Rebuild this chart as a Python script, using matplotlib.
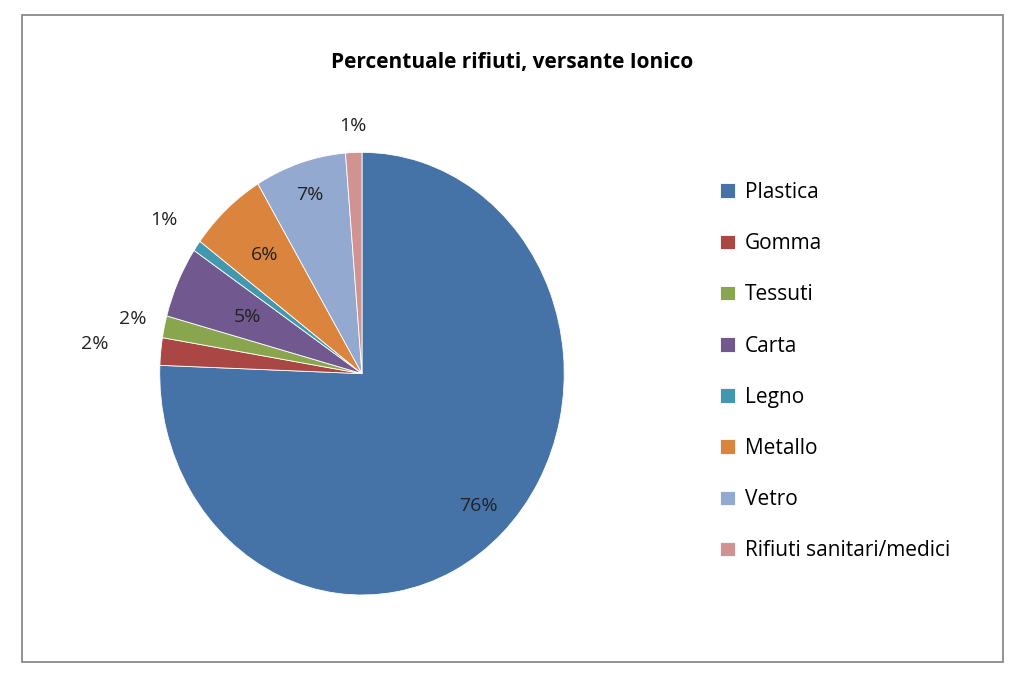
import numpy as np
import matplotlib
matplotlib.use("Agg")
import matplotlib.pyplot as plt
from matplotlib.patches import Rectangle

categories = ["Plastica", "Gomma", "Tessuti", "Carta", "Legno",
              "Metallo", "Vetro", "Rifiuti sanitari/medici"]
values = [75.6, 2.0, 1.6, 5.2, 0.8, 6.2, 7.3, 1.3]
colors = ["#4572A7", "#AA4643", "#89A54E", "#71588F", "#4198AF",
          "#DB843D", "#93A9CF", "#D19392"]
label_dist = [0.83, 1.33, 1.16, 0.62, 1.2, 0.72, 0.85, 1.12]

plt.rcParams["font.family"] = ["Open Sans", "DejaVu Sans"]

fig = plt.figure(figsize=(10.24, 6.8), dpi=100)
fig.patches.append(Rectangle((22 / 1024, 18 / 680), 981 / 1024, 647 / 680,
                             transform=fig.transFigure, fill=False,
                             edgecolor="#808080", linewidth=1.2))

# the reference pie is stretched vertically, so the axes is not equal-aspect
ax = fig.add_axes([0.156, 0.125, 0.395, 0.651])
wedges, _ = ax.pie(values, colors=colors, startangle=90, counterclock=False,
                   wedgeprops=dict(edgecolor="white", linewidth=0.6))
ax.set_aspect("auto")

for w, v, d in zip(wedges, values, label_dist):
    ang = np.deg2rad((w.theta1 + w.theta2) / 2)
    ax.text(d * np.cos(ang), d * np.sin(ang), f"{v:.0f}%",
            ha="center", va="center", fontsize=14, color="#222222")
ax.set_xlim(-1, 1)
ax.set_ylim(-1, 1)

fig.text(0.5, 0.908, "Percentuale rifiuti, versante Ionico",
         ha="center", va="center", fontsize=15, fontweight="bold")

fig.legend(wedges, categories, loc="upper left", bbox_to_anchor=(0.685, 0.76),
           frameon=False, fontsize=15, handlelength=0.7, handleheight=0.7,
           labelspacing=1.45, handletextpad=0.5)

fig.savefig("out.png", dpi=100)
